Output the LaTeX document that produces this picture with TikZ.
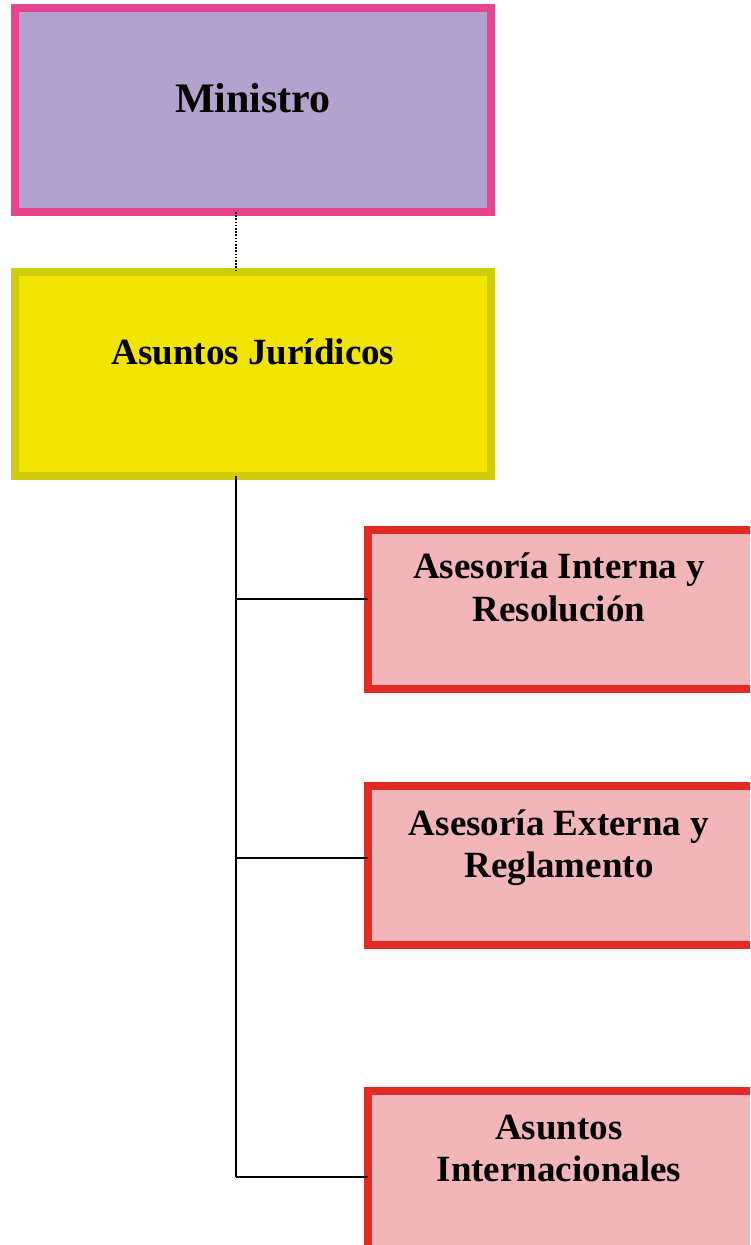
\documentclass[tikz,border=0pt]{standalone}
\usepackage{fontspec}
\setmainfont{Liberation Serif}
\definecolor{minfill}{HTML}{B3A2CE}
\definecolor{minline}{HTML}{E8438E}
\definecolor{jurfill}{HTML}{F0E400}
\definecolor{jurline}{HTML}{CFCC0A}
\definecolor{redfill}{HTML}{F2B5B8}
\definecolor{redline}{HTML}{E32A25}
\tikzset{
  box/.style={draw, line width=8pt, inner sep=0pt, outer sep=0pt},
  minbox/.style={box, fill=minfill, draw=minline, minimum width=476pt, minimum height=204pt},
  jurbox/.style={box, fill=jurfill, draw=jurline, minimum width=476pt, minimum height=204pt},
  unitbox/.style={box, fill=redfill, draw=redline, minimum width=390pt, minimum height=159pt},
  bigtxt/.style={anchor=base, inner sep=0pt, font=\fontsize{42}{46}\selectfont\bfseries},
  txt/.style={anchor=base, inner sep=0pt, font=\fontsize{37}{42}\selectfont\bfseries},
  conn/.style={line width=1.8pt, black},
  dotconn/.style={line width=1.6pt, black, dash pattern=on 1.6pt off 1.6pt}
}
\begin{document}
\begin{tikzpicture}[x=1pt, y=-1pt]
\useasboundingbox (0,0) rectangle (750,1245);
\clip (0,0) rectangle (750,1245);
\fill[white] (0,0) rectangle (750,1245);
% boxes
\node[minbox] (min) at (253,110) {};
\node[jurbox] (jur) at (253,374) {};
\node[unitbox] (u1) at (563,609.5) {};
\node[unitbox] (u2) at (563,865) {};
\node[unitbox] (u3) at (563,1170) {};
% texts
\node[bigtxt] (tmin) at (253,112) {Ministro};
\node[txt] (tjur) at (253,364) {Asuntos Jurídicos};
\node[txt] (t1a) at (559,578) {Asesoría Interna y};
\node[txt] (t1b) at (559,621) {Resolución};
\node[txt] (t2a) at (559,835) {Asesoría Externa y};
\node[txt] (t2b) at (559,877) {Reglamento};
\node[txt] (t3a) at (559,1139) {Asuntos};
\node[txt] (t3b) at (559,1181) {Internacionales};
% connectors
\coordinate (trunk) at (236,0);
\coordinate (b1) at (236,599);
\coordinate (b2) at (236,858);
\coordinate (b3) at (236,1177);
\draw[dotconn] (trunk |- min.south) -- (trunk |- jur.north);
\draw[conn] (trunk |- jur.south) -- (b3);
\draw[conn] (b1) -- (b1 -| u1.west);
\draw[conn] (b2) -- (b2 -| u2.west);
\draw[conn] (b3) -- (b3 -| u3.west);
\end{tikzpicture}
\end{document}
